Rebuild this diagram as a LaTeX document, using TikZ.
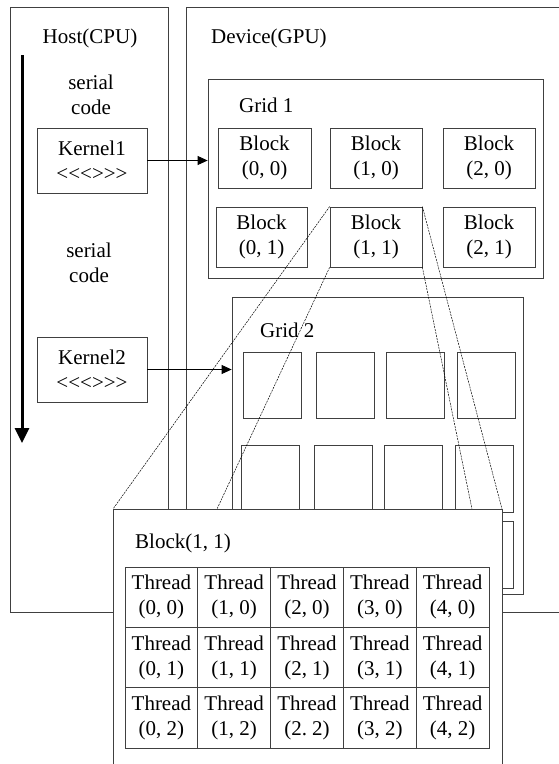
\documentclass[tikz,border=0pt]{standalone}
\usepackage{fontspec}
\setmainfont{Liberation Serif}
\usetikzlibrary{arrows.meta,positioning,calc}

\tikzset{
	frame/.style={draw=black!75, line width=0.8pt},
	txt/.style={font=\fontsize{21}{25}\selectfont, align=center, inner sep=0pt},
	box/.style={frame, txt},
	cell/.style={box, minimum width=72.8, minimum height=60.3},
	zoomline/.style={black, line width=0.5pt, dash pattern=on 2pt off 1pt},
}

\begin{document}
\begin{tikzpicture}[x=1pt, y=-1pt]
	\useasboundingbox (0,0) rectangle (558,764);
	
	% host side
	\node[frame, minimum width=158, minimum height=605] (host) at (89,309.5) {};
	\node[txt] (hostlbl) at (90,38) {Host(CPU)};
	\node[txt] (serial1) at (91,95) {serial\\code};
	\node[box, minimum width=110, minimum height=65] (kern1) at (92,160.5) {Kernel1\\<\kern0pt<\kern0pt<\kern0pt>\kern0pt>\kern0pt>};
	\node[txt] (serial2) at (89,263) {serial\\code};
	\node[box, minimum width=110, minimum height=65] (kern2) at (92,369.5) {Kernel2\\<\kern0pt<\kern0pt<\kern0pt>\kern0pt>\kern0pt>};
	\coordinate (flowtop) at (22,55);
	\coordinate (flowend) at (22,443);
	\draw[line width=3pt, -{Triangle[width=14pt, length=15pt]}] (flowtop) -- (flowend);
	
	% device side
	\node[frame, minimum width=400, minimum height=605] (dev) at (386,309.5) {};
	\node[txt, anchor=west] (devlbl) at (211,38) {Device(GPU)};
	
	\node[frame, minimum width=335, minimum height=199] (grid1) at (375.5,178.5) {};
	\node[txt, anchor=west] (grid1lbl) at (239,105) {Grid 1};
	\node[box, minimum width=93, minimum height=60] (b00) at (264.5,158) {Block\\(0, 0)};
	\node[box, minimum width=92, minimum height=60] (b10) at (376,158) {Block\\(1, 0)};
	\node[box, minimum width=92, minimum height=60] (b20) at (489,158) {Block\\(2, 0)};
	\node[box, minimum width=91, minimum height=60] (b01) at (261.5,237) {Block\\(0, 1)};
	\node[box, minimum width=92, minimum height=60] (b11) at (376,237) {Block\\(1, 1)};
	\node[box, minimum width=92, minimum height=60] (b21) at (489,237) {Block\\(2, 1)};
	
	\node[frame, minimum width=291, minimum height=297] (grid2) at (377.5,445.5) {};
	\node[txt, anchor=west] (grid2lbl) at (260,330) {Grid 2};
	\foreach \c [count=\n] in {272.5,345.5,415,486}
		\node[frame, minimum width=58, minimum height=66] (sq\n a) at (\c,385) {};
	\foreach \r/\yy in {b/478.5,c/554.5}
		\foreach \c [count=\n] in {270,343,413,484}
			\node[frame, minimum width=58, minimum height=67] (sq\n\r) at (\c,\yy) {};
	
	\draw[-{Triangle[width=9pt, length=10pt]}, line width=0.8pt] (kern1.east) -- (kern1.east -| grid1.west);
	\draw[-{Triangle[width=9pt, length=10pt]}, line width=0.8pt] (kern2.east) -- (kern2.east -| grid2.west);
	
	% zoom on block (1,1)
	\coordinate (zl) at (217,509);
	\coordinate (zr) at (472,509);
	\draw[zoomline] (b11.north west) -- (113,509);
	\draw[zoomline] (b11.south west) -- (zl);
	\draw[zoomline] (b11.north east) -- (502,509);
	\draw[zoomline] (b11.south east) -- (zr);
	
	\node[frame, fill=white, minimum width=389, minimum height=300] (blk) at (307.5,659) {};
	\node[txt, anchor=west] (blklbl) at (135,543) {Block(1, 1)};
	\foreach \i in {0,...,4}
		\foreach \j in {0,1,2}
			\node[cell] (t\i\j) at (161.4+72.8*\i, 597.2+60.3*\j) {Thread\\(\i\ifnum\i\j=22 .\else,\fi\ \j)};
\end{tikzpicture}
\end{document}
